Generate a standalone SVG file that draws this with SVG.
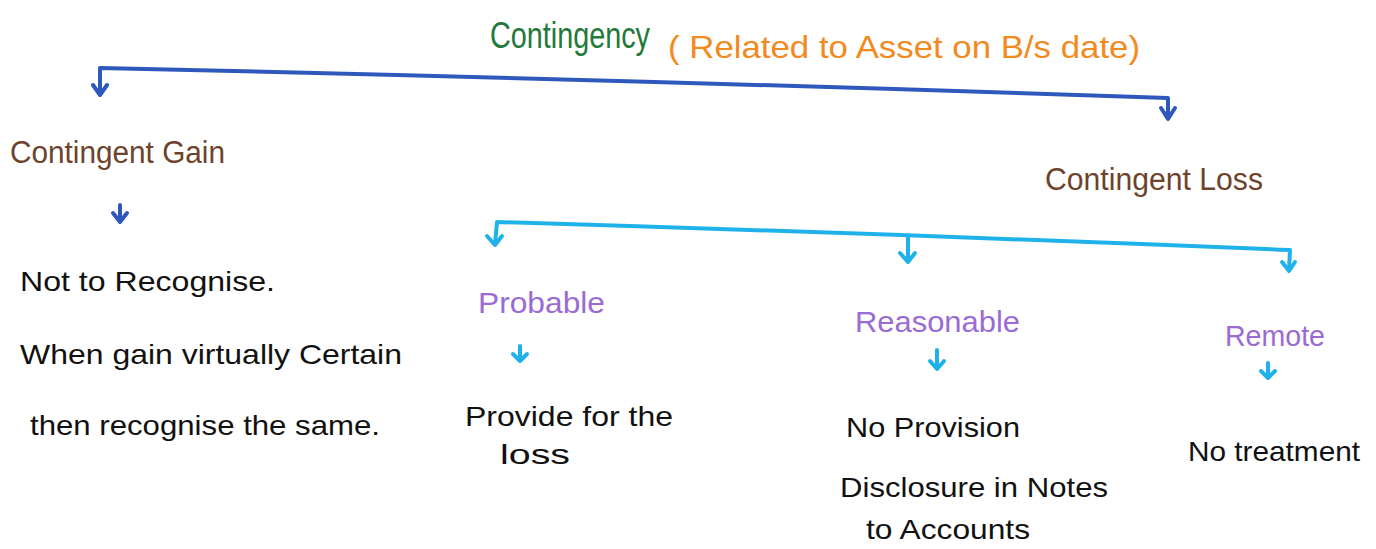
<svg xmlns="http://www.w3.org/2000/svg" width="1376" height="549" viewBox="0 0 1376 549">
  <style>
    .t { font-family: "Liberation Sans", Arial, sans-serif; }
    .green { fill: #23793a; font-size: 36px; }
    .orange { fill: #f28a1e; font-size: 32px; }
    .brown { fill: #6e432c; font-size: 31px; }
    .purple { fill: #9a6bd4; font-size: 29px; }
    .black { fill: #111111; font-size: 28px; }
    .blue { fill: none; stroke: #2f58bd; stroke-width: 4; stroke-linecap: round; stroke-linejoin: round; }
    .cyan { fill: none; stroke: #1fb2ea; stroke-width: 4; stroke-linecap: round; stroke-linejoin: round; }
  </style>
  <rect width="1376" height="549" fill="#ffffff"/>

  <!-- connectors -->
  <g id="connectors">
    <!-- top bracket -->
    <path class="blue" d="M100,94 L100,68 Q640,80 1168,98 L1168,118"/>
    <path class="blue" d="M93,85 L100,95 L107,85"/>
    <path class="blue" d="M1161,108 L1168,119 L1175,108"/>
    <!-- gain result -->
    <path class="blue" d="M120,205 L120,222 M113,213 L120,222 L127,213"/>
    <!-- loss bracket -->
    <path class="cyan" d="M495,244 L497,222 Q900,234 1290,250 L1289,270"/>
    <path class="cyan" d="M487,236 L495,245 L502,236"/>
    <path class="cyan" d="M908,236 L908,262 M900,253 L908,262 L915,253"/>
    <path class="cyan" d="M1282,262 L1289,271 L1295,262"/>
    <!-- outcome arrows -->
    <path class="cyan" d="M520,346 L520,361 M513,354 L520,361 L527,354"/>
    <path class="cyan" d="M937,350 L937,369 M930,361 L937,369 L944,361"/>
    <path class="cyan" d="M1268,363 L1268,378 M1261,371 L1268,378 L1275,371"/>
  </g>

  <g id="contingency">
    <text class="t green" x="490" y="48" textLength="160" lengthAdjust="spacingAndGlyphs">Contingency</text>
    <text class="t orange" x="668" y="58" textLength="472" lengthAdjust="spacingAndGlyphs">( Related to Asset on B/s date)</text>
  </g>

  <g id="contingent-gain">
    <text class="t brown" x="10" y="163" textLength="215" lengthAdjust="spacingAndGlyphs">Contingent Gain</text>
  </g>

  <g id="gain-treatment">
    <text class="t black" x="20" y="291" textLength="255" lengthAdjust="spacingAndGlyphs">Not to Recognise.</text>
    <text class="t black" x="20" y="364" textLength="382" lengthAdjust="spacingAndGlyphs">When gain virtually Certain</text>
    <text class="t black" x="30" y="435" textLength="350" lengthAdjust="spacingAndGlyphs">then recognise the same.</text>
  </g>

  <g id="contingent-loss">
    <text class="t brown" x="1045" y="190" textLength="218" lengthAdjust="spacingAndGlyphs">Contingent Loss</text>
  </g>

  <g id="probable">
    <text class="t purple" x="478" y="313" textLength="127" lengthAdjust="spacingAndGlyphs">Probable</text>
  </g>
  <g id="probable-treatment">
    <text class="t black" x="465" y="426" textLength="208" lengthAdjust="spacingAndGlyphs">Provide for the</text>
    <text class="t black" x="500" y="464" textLength="70" lengthAdjust="spacingAndGlyphs">loss</text>
  </g>

  <g id="reasonable">
    <text class="t purple" x="855" y="332" textLength="165" lengthAdjust="spacingAndGlyphs">Reasonable</text>
  </g>
  <g id="reasonable-treatment">
    <text class="t black" x="846" y="437" textLength="174" lengthAdjust="spacingAndGlyphs">No Provision</text>
    <text class="t black" x="840" y="497" textLength="268" lengthAdjust="spacingAndGlyphs">Disclosure in Notes</text>
    <text class="t black" x="866" y="539" textLength="164" lengthAdjust="spacingAndGlyphs">to Accounts</text>
  </g>

  <g id="remote">
    <text class="t purple" x="1225" y="346" textLength="100" lengthAdjust="spacingAndGlyphs">Remote</text>
  </g>
  <g id="remote-treatment">
    <text class="t black" x="1188" y="461" textLength="172" lengthAdjust="spacingAndGlyphs">No treatment</text>
  </g>
</svg>
